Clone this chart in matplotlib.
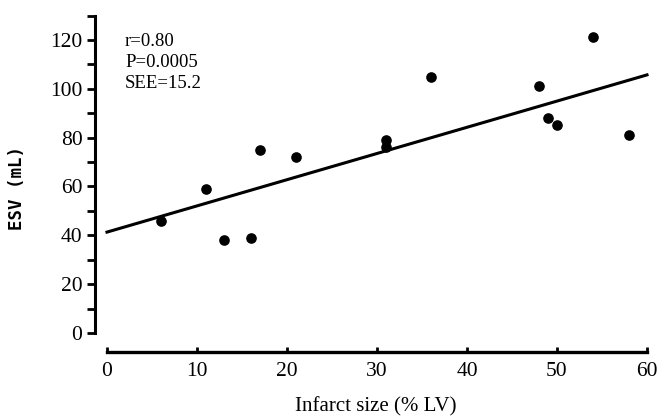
import numpy as np
import matplotlib
matplotlib.use("Agg")
import matplotlib.pyplot as plt

# ----Data
infarct_size = [6, 11, 13, 16, 17, 21, 31, 31, 36, 48, 49, 50, 54, 58]
esv = [46, 59, 38, 39, 75, 72, 79, 76, 105, 101, 88, 85, 121, 81]

# regression line as drawn
fit_intercept = 41.3
fit_slope = 1.073
fit_x = [0, 60]

stats_lines = ["r=0.80", "P=0.0005", "SEE=15.2"]
x_ticks = [0, 10, 20, 30, 40, 50, 60]
y_ticks = [0, 20, 40, 60, 80, 100, 120]

plt.rcParams['font.family'] = ['Liberation Serif', 'DejaVu Serif']

fig = plt.figure(figsize=(6.58, 4.16), dpi=100)
ax = fig.add_axes([95 / 658, 64 / 416, 561 / 658, 336.5 / 416])

# Points and fitted line
ax.scatter(infarct_size, esv, s=44, color='black', zorder=3)
fx = np.array(fit_x)
ax.plot(fx, fit_intercept + fit_slope * fx, color='black', lw=2.2)

ax.set_xlim(-1.33, 61)
ax.set_ylim(-7.8, 130)

# Spines: detached axes like the original
for side in ['top', 'right']:
    ax.spines[side].set_visible(False)
ax.spines['left'].set_bounds(0, 130)
ax.spines['bottom'].set_bounds(0, 60)
ax.spines['left'].set_linewidth(2.2)
ax.spines['bottom'].set_linewidth(2.4)

ax.set_xticks(x_ticks)
ax.set_yticks(y_ticks)
ax.set_yticks(np.arange(10, 131, 20), minor=True)
ax.tick_params(axis='y', which='both', direction='out', length=6,
               width=2, labelsize=15.5, pad=3)
ax.tick_params(axis='x', direction='in', length=3.5, width=2,
               labelsize=15.5, pad=7)

ax.set_xlabel('Infarct size (% LV)', fontsize=15, labelpad=12)
fig.text(17 / 658, 1 - 188 / 416, 'ESV (mL)', rotation=90, ha='center',
         va='center', fontsize=12.5, fontweight='bold',
         family='DejaVu Sans Mono')

for i, line in enumerate(stats_lines):
    fig.text(125 / 658, 1 - (42 + i * 20.7) / 416, line, ha='left',
             va='center', fontsize=13.5)

fig.savefig('out.png', dpi=100)
